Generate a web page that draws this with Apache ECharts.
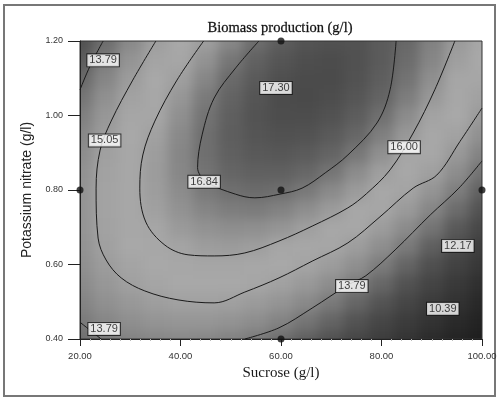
<!DOCTYPE html>
<html>
<head>
<meta charset="utf-8">
<title>Biomass production</title>
<script src="https://cdn.jsdelivr.net/npm/echarts@6/dist/echarts.min.js"></script>
<style>
  html, body { margin: 0; padding: 0; background: #fff; }
  #wrap { position: relative; width: 500px; height: 398px; }
  #clip { position: absolute; left: 80px; top: 41px; width: 402px; height: 298px; overflow: hidden; }
  #heat { position: absolute; left: -80px; top: -41px; width: 500px; height: 398px; filter: blur(6px); }
  #main { position: absolute; left: 0; top: 0; width: 500px; height: 398px; }
</style>
</head>
<body>
<div id="wrap">
  <div id="clip"><div id="heat"></div></div>
  <div id="main"></div>
</div>
<script>
// response surface: rows = potassium nitrate, cols = sucrose
const sucrose = [20, 25, 30, 35, 40, 45, 50, 55, 60, 65, 70, 75, 80, 85, 90, 95, 100];
const nitrate = [0.40, 0.45, 0.50, 0.55, 0.60, 0.65, 0.70, 0.75, 0.80, 0.85, 0.90, 0.95, 1.00, 1.05, 1.10, 1.15, 1.20];
const biomass = [
  [13.52, 13.85, 14.08, 14.22, 14.27, 14.22, 14.07, 13.83, 13.50, 13.07, 12.54, 11.92, 11.21, 10.40, 9.49, 8.49, 7.40],
  [13.83, 14.19, 14.46, 14.64, 14.72, 14.71, 14.60, 14.40, 14.10, 13.70, 13.21, 12.63, 11.95, 11.18, 10.31, 9.35, 8.29],
  [14.09, 14.49, 14.80, 15.01, 15.13, 15.15, 15.08, 14.91, 14.65, 14.29, 13.84, 13.29, 12.65, 11.91, 11.08, 10.15, 9.13],
  [14.30, 14.74, 15.08, 15.33, 15.48, 15.54, 15.51, 15.38, 15.15, 14.83, 14.41, 13.90, 13.30, 12.60, 11.80, 10.91, 9.92],
  [14.46, 14.93, 15.31, 15.60, 15.79, 15.89, 15.89, 15.79, 15.60, 15.32, 14.94, 14.46, 13.90, 13.23, 12.47, 11.62, 10.67],
  [14.57, 15.08, 15.50, 15.82, 16.05, 16.18, 16.22, 16.16, 16.01, 15.76, 15.42, 14.98, 14.44, 13.82, 13.09, 12.28, 11.36],
  [14.63, 15.18, 15.63, 15.99, 16.26, 16.42, 16.50, 16.48, 16.36, 16.15, 15.84, 15.44, 14.94, 14.35, 13.67, 12.88, 12.01],
  [14.65, 15.23, 15.72, 16.12, 16.42, 16.62, 16.73, 16.75, 16.66, 16.49, 16.22, 15.85, 15.39, 14.84, 14.19, 13.44, 12.60],
  [14.61, 15.23, 15.76, 16.19, 16.53, 16.77, 16.91, 16.96, 16.92, 16.78, 16.55, 16.22, 15.80, 15.28, 14.66, 13.95, 13.15],
  [14.52, 15.18, 15.74, 16.21, 16.59, 16.86, 17.05, 17.13, 17.13, 17.02, 16.83, 16.53, 16.15, 15.66, 15.09, 14.41, 13.65],
  [14.39, 15.08, 15.68, 16.19, 16.60, 16.91, 17.13, 17.25, 17.28, 17.22, 17.06, 16.80, 16.45, 16.00, 15.46, 14.83, 14.09],
  [14.21, 14.94, 15.57, 16.11, 16.56, 16.91, 17.16, 17.32, 17.39, 17.36, 17.24, 17.02, 16.70, 16.29, 15.79, 15.19, 14.49],
  [13.97, 14.74, 15.41, 15.99, 16.47, 16.86, 17.15, 17.35, 17.45, 17.45, 17.37, 17.18, 16.90, 16.53, 16.06, 15.50, 14.84],
  [13.69, 14.49, 15.20, 15.81, 16.33, 16.76, 17.08, 17.32, 17.46, 17.50, 17.45, 17.30, 17.06, 16.72, 16.29, 15.76, 15.14],
  [13.36, 14.20, 14.94, 15.59, 16.15, 16.61, 16.97, 17.24, 17.41, 17.49, 17.48, 17.37, 17.16, 16.86, 16.47, 15.98, 15.39],
  [12.98, 13.85, 14.63, 15.32, 15.91, 16.41, 16.81, 17.11, 17.32, 17.44, 17.46, 17.39, 17.22, 16.95, 16.60, 16.14, 15.59],
  [12.54, 13.46, 14.27, 15.00, 15.62, 16.16, 16.59, 16.94, 17.18, 17.34, 17.39, 17.36, 17.22, 17.00, 16.67, 16.26, 15.74]
];

// contour lines, [sucrose, nitrate]
const contour1379TopLeft = [[24.6, 1.20], [22.0, 1.133], [20.0, 1.069]];
const contour1379BottomLeft = [[24.2, 0.40], [20.0, 0.445]];
const contour1379 = [[52.8, 0.40], [59.6, 0.430], [66.2, 0.483], [73.3, 0.545], [76.9, 0.570], [82.7, 0.639], [89.7, 0.733], [95.4, 0.805], [100, 0.878]];
const contour1505 = [[35.1, 1.20], [30.5, 1.095], [26.2, 0.985], [24.0, 0.907], [23.2, 0.805], [23.6, 0.671], [25.2, 0.612], [28.2, 0.564], [32.9, 0.529], [39.5, 0.505], [46.7, 0.497], [52.8, 0.526], [59.6, 0.564], [66.2, 0.609], [73.3, 0.658], [79.7, 0.728], [86.3, 0.805], [91.0, 0.840], [95.6, 0.930], [100, 1.020]];
const contour1600 = [[44.6, 1.20], [39.3, 1.095], [34.9, 0.985], [32.5, 0.894], [31.9, 0.805], [33.1, 0.714], [36.9, 0.652], [41.5, 0.626], [46.7, 0.623], [52.8, 0.631], [59.6, 0.663], [66.2, 0.703], [73.3, 0.752], [77.0, 0.790], [81.7, 0.854], [86.3, 0.953], [90.6, 1.069], [94.6, 1.20]];
const contour1684 = [[55.6, 1.20], [51.0, 1.128], [46.7, 1.047], [44.3, 0.948], [43.4, 0.860], [45.2, 0.822], [50.9, 0.789], [54.8, 0.779], [59.8, 0.789], [64.2, 0.805], [68.8, 0.846], [73.3, 0.894], [79.1, 0.980], [81.7, 1.069], [82.9, 1.20]];

const contourLabels = [
  { text: '13.79', at: [24.6, 1.148] },
  { text: '15.05', at: [24.9, 0.933] },
  { text: '16.84', at: [44.7, 0.822] },
  { text: '17.30', at: [59.0, 1.074] },
  { text: '16.00', at: [84.5, 0.915] },
  { text: '13.79', at: [74.1, 0.542] },
  { text: '12.17', at: [95.2, 0.650] },
  { text: '10.39', at: [92.2, 0.481] },
  { text: '13.79', at: [24.8, 0.427] }
];

const designPoints = [[60, 1.2], [20, 0.8], [100, 0.8], [60, 0.8], [60, 0.4]];

const xTicks = [20, 40, 60, 80, 100];
const yTicks = [0.4, 0.6, 0.8, 1.0, 1.2];

const grays = ['#1e1e1e', '#212121', '#242424', '#272727', '#2b2b2b', '#303030', '#353535', '#3a3a3a', '#404040',
  '#474747', '#505050', '#5c5c5c', '#6e6e6e', '#808080', '#909090', '#9e9e9e', '#a8a8a8', '#a6a6a6', '#8e8e8e', '#686868', '#4a4a4a'];

const gridBox = { left: 80, top: 41, width: 402, height: 298 };
const dS = sucrose[1] - sucrose[0];
const dK = nitrate[1] - nitrate[0];

const cells = [];
nitrate.forEach((k, j) => {
  sucrose.forEach((s, i) => {
    cells.push([s, k, biomass[j][i]]);
  });
});

const heatChart = echarts.init(document.getElementById('heat'));
heatChart.setOption({
  animation: false,
  grid: Object.assign({}, gridBox),
  xAxis: { type: 'value', min: xTicks[0], max: xTicks[xTicks.length - 1], show: false },
  yAxis: { type: 'value', min: yTicks[0], max: yTicks[yTicks.length - 1], show: false },
  visualMap: {
    show: false, type: 'continuous', dimension: 2, min: 7.5, max: 17.5,
    inRange: { color: grays }
  },
  series: [{
    type: 'custom',
    data: cells,
    renderItem: function (params, api) {
      const s = api.value(0), k = api.value(1);
      const a = api.coord([s - dS / 2, k + dK / 2]);
      const b = api.coord([s + dS / 2, k - dK / 2]);
      let x0 = a[0], y0 = a[1], x1 = b[0], y1 = b[1];
      // push border cells out so the blur does not fade at the plot edge
      if (s === sucrose[0]) x0 -= 25;
      if (s === sucrose[sucrose.length - 1]) x1 += 25;
      if (k === nitrate[0]) y1 += 25;
      if (k === nitrate[nitrate.length - 1]) y0 -= 25;
      return {
        type: 'rect',
        shape: { x: x0, y: y0, width: x1 - x0 + 1, height: y1 - y0 + 1 },
        style: { fill: api.visual('color') }
      };
    }
  }]
});

const lineSeries = (data) => ({
  type: 'line',
  data: data,
  smooth: 0.35,
  showSymbol: false,
  silent: true,
  lineStyle: { color: '#1a1a1a', width: 1 },
  z: 3
});

const chart = echarts.init(document.getElementById('main'));
chart.setOption({
  animation: false,
  grid: Object.assign({ show: true, borderColor: '#333', borderWidth: 1 }, gridBox),
  graphic: [
    {
      type: 'rect', silent: true,
      shape: { x: 4, y: 5, width: 491, height: 391 },
      style: { fill: 'none', stroke: '#777', lineWidth: 2 }
    },
    {
      type: 'text', x: 280, y: 28, silent: true,
      style: {
        text: 'Biomass production (g/l)',
        font: '14.5px "Liberation Serif"',
        fill: '#111',
        stroke: '#444', lineWidth: 0.3,
        textAlign: 'center', textVerticalAlign: 'middle',
        align: 'center', verticalAlign: 'middle'
      }
    }
  ],
  xAxis: {
    type: 'value',
    min: xTicks[0], max: xTicks[xTicks.length - 1], interval: xTicks[1] - xTicks[0],
    name: 'Sucrose (g/l)', nameLocation: 'middle', nameGap: 27,
    nameTextStyle: { fontFamily: 'Liberation Serif', fontSize: 15, color: '#1a1a1a' },
    axisLine: { show: true, lineStyle: { color: '#222', width: 1 } },
    axisTick: { show: true, length: 7, lineStyle: { color: '#222' } },
    minorTick: { show: true, splitNumber: 10, length: 2, lineStyle: { color: '#bbb' } },
    splitLine: { show: false },
    axisLabel: { formatter: v => v.toFixed(2), fontSize: 9.5, color: '#333', margin: 12, fontFamily: 'Liberation Sans' }
  },
  yAxis: {
    type: 'value',
    min: yTicks[0], max: yTicks[yTicks.length - 1], interval: 0.2,
    name: 'Potassium nitrate (g/l)', nameLocation: 'middle', nameGap: 39,
    nameTextStyle: { fontFamily: 'Liberation Sans', fontSize: 14, color: '#222' },
    axisLine: { show: true, lineStyle: { color: '#222', width: 1 } },
    axisTick: { show: true, length: 12, lineStyle: { color: '#222' } },
    splitLine: { show: false },
    axisLabel: { formatter: v => v.toFixed(2), fontSize: 9, color: '#333', margin: 17, fontFamily: 'Liberation Sans' }
  },
  series: [
    lineSeries(contour1379TopLeft),
    lineSeries(contour1379BottomLeft),
    lineSeries(contour1379),
    lineSeries(contour1505),
    lineSeries(contour1600),
    lineSeries(contour1684),
    {
      type: 'scatter',
      data: designPoints,
      symbolSize: 7,
      itemStyle: { color: '#111' },
      silent: true,
      clip: false,
      z: 5
    },
    {
      type: 'scatter',
      data: contourLabels.map(l => ({ value: l.at, name: l.text })),
      symbolSize: 0,
      silent: true,
      z: 6,
      label: {
        show: true, position: 'inside', formatter: p => p.name,
        backgroundColor: '#fff', borderColor: '#111', borderWidth: 1,
        padding: [1, 2, 0, 2], fontSize: 11, lineHeight: 11,
        color: '#111', fontFamily: 'Liberation Sans'
      }
    }
  ]
});
</script>
</body>
</html>
